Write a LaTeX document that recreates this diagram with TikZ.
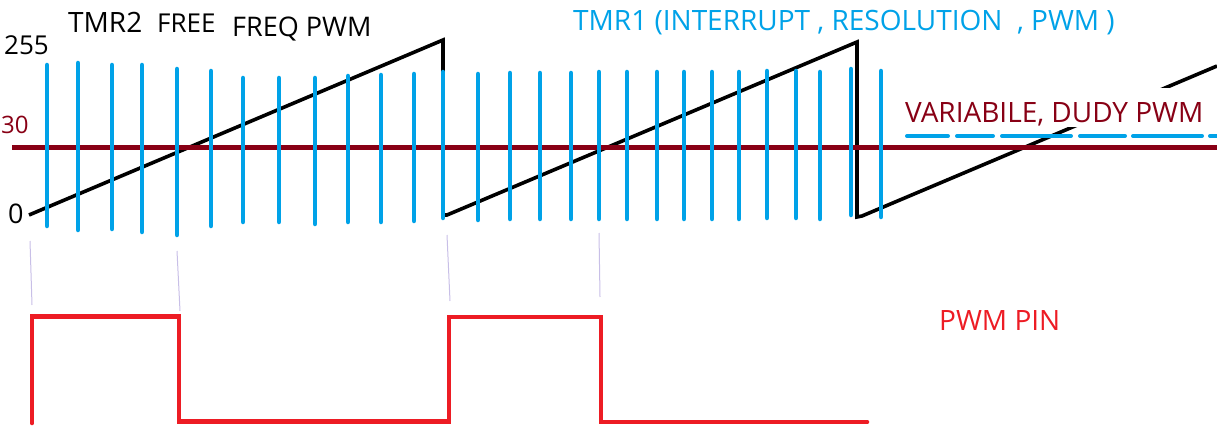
\documentclass[tikz,border=0pt]{standalone}
\usepackage{fontspec}
\setmainfont{Open Sans}
\definecolor{paintblue}{RGB}{0,162,232}
\definecolor{paintdarkred}{RGB}{136,0,21}
\definecolor{paintred}{RGB}{237,28,36}
\definecolor{paintlilac}{RGB}{200,191,231}

\begin{document}
\begin{tikzpicture}[x=1pt, y=-1pt, line join=miter,
  sawline/.style={line width=3.6pt, black},
  tickline/.style={line width=4.5pt, paintblue, line cap=round},
  dutyline/.style={line width=4.5pt, paintdarkred},
  pinline/.style={line width=4.6pt, paintred, line cap=round},
  guide/.style={line width=1pt, paintlilac},
  lbl/.style={inner sep=0pt, anchor=base west}]
  \useasboundingbox (0,0) rectangle (1217,433);

  % Timer ramps
  \draw[sawline] (29,215) -- (443,40) -- (443,215) -- (447,215) -- (857,42)
    -- (857,217) -- (862,216) -- (1217,66);

  % Duty level
  \draw[dutyline] (12,147.5) -- (1217,147.5);

  % Dashed duty marker
  \foreach \a/\b in {907/948, 957/993, 1002/1071, 1080/1125, 1133/1202, 1210/1217}
    \draw[tickline, line width=4pt] (\a,136) -- (\b,136);

  % Resolution ticks
  \foreach \x/\t/\b in {47/65/226, 78/63/230, 112/65/229, 142/65/232, 177/69/235,
      211/71/226, 243/78/222, 279/78/222, 315/78/224, 348/76/222, 381/75/222,
      414/74/221, 443/72/218, 478/74/220, 510/73/219, 540/73/219, 571/73/219,
      599/72/219, 627/72/219, 657/72/219, 684/72/219, 712/72/219, 739/72/219,
      767/71/218, 796/71/218, 820/72/219, 851/69/215, 881/71/217}
    \draw[tickline] (\x,\t) -- (\x,\b);

  % Guides down to the pin
  \draw[guide] (30,241) -- (32,305);
  \draw[guide] (177,251) -- (180,311);
  \draw[guide] (447,235) -- (450,301);
  \draw[guide] (599,233) -- (600,297);

  % Output pin
  \draw[pinline] (32,423) -- (32,316.5) -- (179,316.5) -- (179,421.5)
    -- (449,421.5) -- (449,317) -- (601,317) -- (601,422) -- (867,422);

  % Labels
  \node[lbl] (top) at (4,55) {\fontsize{26}{28}\selectfont 255};
  \node[lbl, text=paintdarkred] (duty) at (1,133) {\fontsize{24}{26}\selectfont 30};
  \node[lbl] (zero) at (8,223) {\fontsize{27}{29}\selectfont 0};
  \node[lbl] (tmr2) at (68,33) {\fontsize{28}{30}\selectfont TMR2};
  \node[lbl] (free) at (157,33) {\fontsize{26}{28}\selectfont FREE};
  \node[lbl] (freq) at (232,37) {\fontsize{27}{29}\selectfont FREQ PWM};
  \node[lbl, text=paintblue] (tmr1) at (573,31)
    {\fontsize{28}{30}\selectfont TMR1 (INTERRUPT , RESOLUTION\ \ , PWM )};
  \node[lbl, text=paintdarkred, fill=white, inner xsep=3pt, text height=35pt,
    text depth=4pt] (var) at (902,123) {\fontsize{28}{30}\selectfont VARIABILE, DUDY PWM};
  \node[lbl, text=paintred] (pin) at (939,330) {\fontsize{28}{30}\selectfont PWM PIN};
\end{tikzpicture}
\end{document}
